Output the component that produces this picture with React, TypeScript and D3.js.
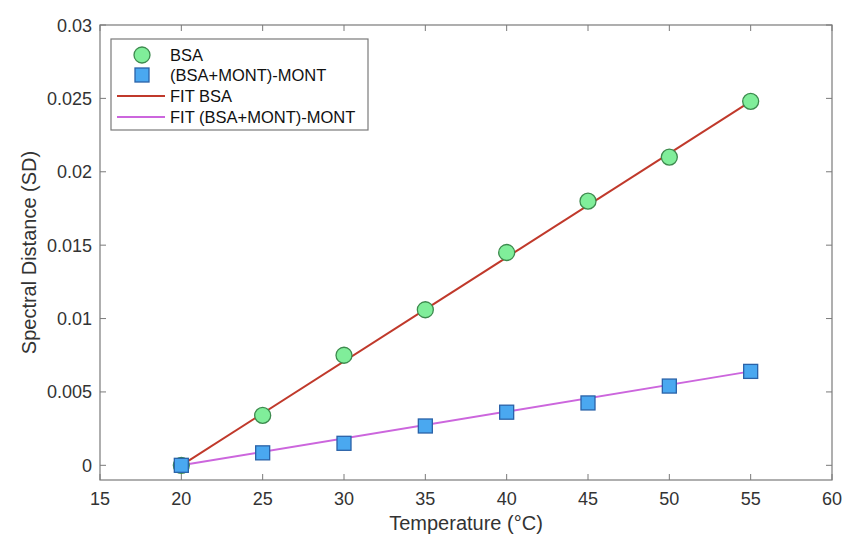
import React from 'react'
import * as d3 from 'd3'

// temperatures (°C)
const temps = [20, 25, 30, 35, 40, 45, 50, 55]
// spectral distance values
const bsa = [0, 0.0034, 0.0075, 0.0106, 0.0145, 0.018, 0.021, 0.0248]
const mont = [0, 0.00085, 0.0015, 0.00268, 0.00362, 0.00425, 0.0054, 0.0064]
// linear fit end points
const fitX = [20, 55]
const fitBsa = [0, 0.0248]
const fitMont = [0, 0.0064]

const xTicks = [15, 20, 25, 30, 35, 40, 45, 50, 55, 60]
const yTicks = [0, 0.005, 0.01, 0.015, 0.02, 0.025, 0.03]
const legendLabels = ['BSA', '(BSA+MONT)-MONT', 'FIT BSA', 'FIT (BSA+MONT)-MONT']

const W = 844
const H = 534
const margin = {left: 100, right: 12, top: 25, bottom: 54}
const font = 'Liberation Sans, Arial, sans-serif'
const axisColor = '#7a7a7a'

export default function App() {
  const x = d3
    .scaleLinear()
    .domain([15, 60])
    .range([margin.left, W - margin.right])
  const y = d3
    .scaleLinear()
    .domain([-0.001, 0.03])
    .range([H - margin.bottom, margin.top])

  const line = d3
    .line<number>()
    .x((d, i) => x(fitX[i]))
    .y(d => y(d))

  const x0 = x.range()[0]
  const x1 = x.range()[1]
  const y0 = y.range()[0]
  const y1 = y.range()[1]
  const tk = 6

  const legendY = [55, 75, 96, 117]

  return (
    <svg width={W} height={H} style={{position: 'absolute', left: 0, top: 0, background: '#fff'}}>
      <rect x={0} y={0} width={W} height={H} fill="#fff" />

      {/* ticks, all four sides */}
      {xTicks.map(t => (
        <g key={'xt' + t}>
          <line x1={x(t)} x2={x(t)} y1={y0} y2={y0 - tk} stroke={axisColor} />
          <line x1={x(t)} x2={x(t)} y1={y1} y2={y1 + tk} stroke={axisColor} />
          <text
            x={x(t)}
            y={y0 + 25}
            textAnchor="middle"
            fontFamily={font}
            fontSize={18}
            fill="#333"
          >
            {t}
          </text>
        </g>
      ))}
      {yTicks.map(t => (
        <g key={'yt' + t}>
          <line x1={x0} x2={x0 + tk} y1={y(t)} y2={y(t)} stroke={axisColor} />
          <line x1={x1} x2={x1 - tk} y1={y(t)} y2={y(t)} stroke={axisColor} />
          <text
            x={x0 - 8}
            y={y(t) + 6.5}
            textAnchor="end"
            fontFamily={font}
            fontSize={18}
            fill="#333"
          >
            {t}
          </text>
        </g>
      ))}

      {/* fit lines */}
      <path d={line(fitBsa) || ''} fill="none" stroke="#c0392b" strokeWidth={2} />
      <path d={line(fitMont) || ''} fill="none" stroke="#cc66dd" strokeWidth={2} />

      {/* markers */}
      {temps.map((t, i) => (
        <circle
          key={'b' + t}
          cx={x(t)}
          cy={y(bsa[i])}
          r={8}
          fill="#80ee9a"
          stroke="#3d8a4e"
          strokeWidth={1.3}
        />
      ))}
      {temps.map((t, i) => (
        <rect
          key={'m' + t}
          x={x(t) - 7}
          y={y(mont[i]) - 7}
          width={14}
          height={14}
          fill="#4aa8f0"
          stroke="#2a62a8"
          strokeWidth={1.3}
        />
      ))}

      {/* axes box */}
      <rect
        x={x0}
        y={y1}
        width={x1 - x0}
        height={y0 - y1}
        fill="none"
        stroke={axisColor}
        strokeWidth={1.2}
      />

      {/* legend */}
      <rect x={111} y={39} width={257} height={91} fill="#fff" stroke={axisColor} strokeWidth={1.2} />
      <circle cx={142} cy={legendY[0]} r={8} fill="#80ee9a" stroke="#3d8a4e" strokeWidth={1.3} />
      <rect x={135} y={legendY[1] - 7} width={14} height={14} fill="#4aa8f0" stroke="#2a62a8" strokeWidth={1.3} />
      <line x1={117} x2={165} y1={legendY[2]} y2={legendY[2]} stroke="#c0392b" strokeWidth={2} />
      <line x1={117} x2={165} y1={legendY[3]} y2={legendY[3]} stroke="#cc66dd" strokeWidth={2} />
      {legendLabels.map((l, i) => (
        <text
          key={l}
          x={170}
          y={legendY[i] + 6}
          fontFamily={font}
          fontSize={16.5}
          fill="#111"
        >
          {l}
        </text>
      ))}

      {/* axis labels */}
      <text
        x={(x0 + x1) / 2}
        y={H - 4}
        textAnchor="middle"
        fontFamily={font}
        fontSize={20}
        fill="#333"
      >
        Temperature (°C)
      </text>
      <text
        transform={`translate(36, ${(y0 + y1) / 2}) rotate(-90)`}
        textAnchor="middle"
        fontFamily={font}
        fontSize={20}
        fill="#333"
      >
        Spectral Distance (SD)
      </text>
    </svg>
  )
}
